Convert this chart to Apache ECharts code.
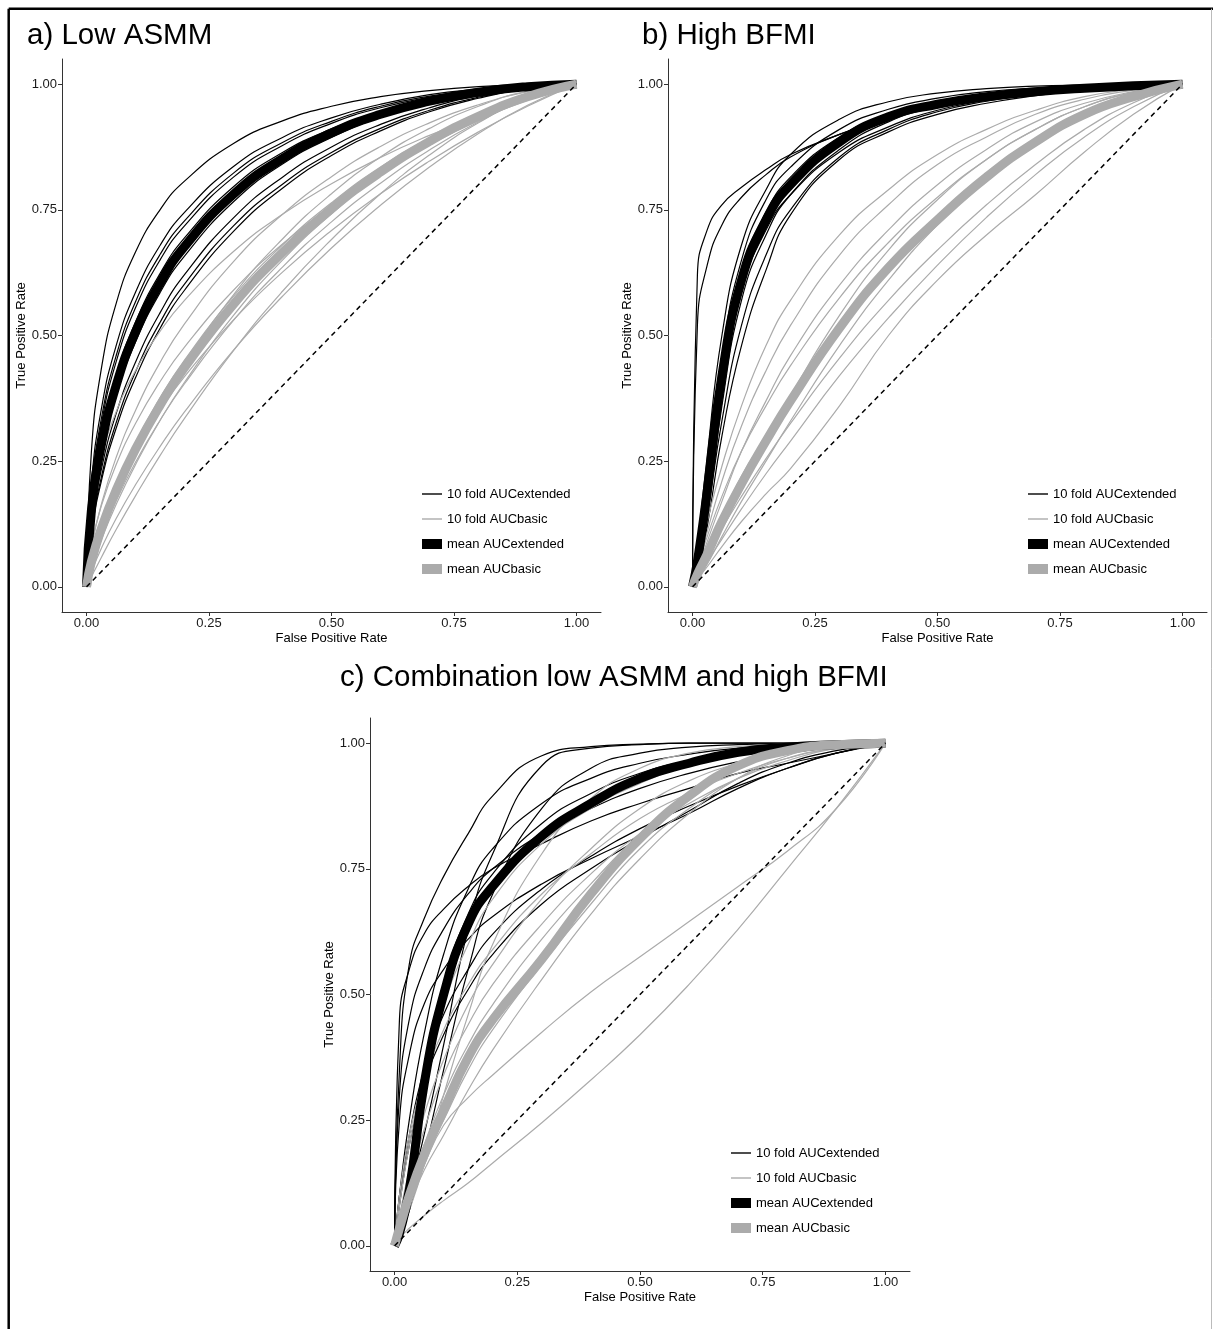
<!DOCTYPE html>
<html>
<head>
<meta charset="utf-8">
<script src="https://cdn.jsdelivr.net/npm/echarts@6/dist/echarts.min.js"></script>
<style>
  html, body { margin: 0; padding: 0; background: #fff; }
  #chart { width: 1213px; height: 1329px; }
</style>
</head>
<body>
<div id="chart"></div>
<script>
// false positive rate grid, every curve below is read at these points
const fprGrid = [0, 0.01, 0.03, 0.06, 0.1, 0.15, 0.2, 0.3, 0.4, 0.5, 0.6, 0.7, 0.8, 0.9, 1];
const tickValues = [0, 0.25, 0.5, 0.75, 1];
const legendNames = ['10 fold AUCextended', '10 fold AUCbasic', 'mean AUCextended', 'mean AUCbasic'];
const panelTitles = ['a) Low ASMM', 'b) High BFMI', 'c) Combination low ASMM and high BFMI'];

// a) Low ASMM
const asmmExtFolds = [
  [0, 0.269, 0.432, 0.562, 0.666, 0.750, 0.807, 0.882, 0.927, 0.956, 0.975, 0.987, 0.995, 0.999, 1],
  [0, 0.204, 0.352, 0.478, 0.586, 0.679, 0.745, 0.836, 0.894, 0.933, 0.960, 0.979, 0.990, 0.997, 1],
  [0, 0.191, 0.333, 0.458, 0.567, 0.661, 0.728, 0.823, 0.884, 0.926, 0.956, 0.976, 0.989, 0.997, 1],
  [0, 0.182, 0.322, 0.446, 0.555, 0.650, 0.718, 0.815, 0.878, 0.922, 0.953, 0.974, 0.988, 0.997, 1],
  [0, 0.165, 0.298, 0.419, 0.527, 0.623, 0.694, 0.796, 0.864, 0.911, 0.946, 0.970, 0.986, 0.996, 1],
  [0, 0.148, 0.274, 0.392, 0.499, 0.596, 0.669, 0.775, 0.848, 0.900, 0.937, 0.964, 0.983, 0.995, 1],
  [0, 0.141, 0.264, 0.380, 0.487, 0.585, 0.658, 0.766, 0.841, 0.894, 0.934, 0.962, 0.982, 0.994, 1],
  [0, 0.120, 0.232, 0.343, 0.447, 0.545, 0.621, 0.734, 0.815, 0.875, 0.920, 0.953, 0.977, 0.992, 1],
  [0, 0.110, 0.217, 0.325, 0.428, 0.526, 0.602, 0.718, 0.801, 0.864, 0.912, 0.948, 0.974, 0.991, 1],
  [0, 0.105, 0.209, 0.314, 0.416, 0.514, 0.590, 0.707, 0.793, 0.858, 0.907, 0.945, 0.972, 0.991, 1]
];
const asmmBasicFolds = [
  [0, 0.077, 0.163, 0.256, 0.351, 0.446, 0.523, 0.647, 0.741, 0.816, 0.876, 0.923, 0.959, 0.985, 1],
  [0, 0.156, 0.256, 0.347, 0.430, 0.508, 0.570, 0.667, 0.741, 0.802, 0.854, 0.898, 0.936, 0.970, 1],
  [0, 0.038, 0.099, 0.176, 0.264, 0.359, 0.442, 0.581, 0.692, 0.782, 0.855, 0.912, 0.956, 0.986, 1],
  [0, 0.054, 0.123, 0.202, 0.287, 0.376, 0.451, 0.578, 0.680, 0.764, 0.835, 0.893, 0.941, 0.977, 1],
  [0, 0.082, 0.160, 0.242, 0.325, 0.408, 0.477, 0.590, 0.682, 0.758, 0.823, 0.879, 0.928, 0.968, 1],
  [0, 0.037, 0.093, 0.163, 0.243, 0.331, 0.407, 0.540, 0.650, 0.742, 0.820, 0.885, 0.937, 0.977, 1],
  [0, 0.042, 0.100, 0.170, 0.248, 0.331, 0.404, 0.530, 0.636, 0.726, 0.803, 0.869, 0.925, 0.970, 1],
  [0, 0.061, 0.127, 0.198, 0.273, 0.351, 0.418, 0.531, 0.626, 0.709, 0.782, 0.847, 0.905, 0.956, 1],
  [0, 0.020, 0.058, 0.113, 0.181, 0.261, 0.335, 0.470, 0.588, 0.691, 0.782, 0.859, 0.923, 0.972, 1],
  [0, 0.030, 0.076, 0.135, 0.203, 0.279, 0.348, 0.471, 0.578, 0.674, 0.759, 0.835, 0.902, 0.958, 1]
];
const asmmExtMean = [0, 0.152, 0.281, 0.399, 0.507, 0.604, 0.677, 0.781, 0.852, 0.903, 0.940, 0.966, 0.984, 0.995, 1];
const asmmBasicMean = [0, 0.050, 0.115, 0.191, 0.274, 0.361, 0.436, 0.562, 0.665, 0.752, 0.825, 0.886, 0.936, 0.975, 1];

// b) High BFMI
const bfmiExtFolds = [
  [0, 0.62, 0.71, 0.76, 0.795, 0.83, 0.86, 0.90, 0.935, 0.958, 0.974, 0.985, 0.993, 0.998, 1],
  [0, 0.52, 0.64, 0.72, 0.775, 0.82, 0.855, 0.90, 0.932, 0.955, 0.97, 0.982, 0.991, 0.997, 1],
  [0, 0.08, 0.26, 0.50, 0.68, 0.79, 0.86, 0.93, 0.965, 0.982, 0.991, 0.996, 0.998, 0.999, 1],
  [0, 0.06, 0.22, 0.46, 0.65, 0.77, 0.835, 0.91, 0.95, 0.972, 0.985, 0.992, 0.996, 0.999, 1],
  [0, 0.04, 0.17, 0.40, 0.60, 0.72, 0.795, 0.88, 0.93, 0.958, 0.975, 0.986, 0.993, 0.998, 1],
  [0, 0.03, 0.14, 0.36, 0.57, 0.70, 0.78, 0.87, 0.925, 0.955, 0.973, 0.985, 0.993, 0.998, 1],
  [0, 0.05, 0.20, 0.41, 0.59, 0.71, 0.78, 0.865, 0.915, 0.948, 0.968, 0.982, 0.991, 0.997, 1],
  [0, 0.035, 0.14, 0.33, 0.52, 0.66, 0.75, 0.855, 0.91, 0.945, 0.966, 0.98, 0.99, 0.997, 1],
  [0, 0.03, 0.12, 0.30, 0.48, 0.63, 0.74, 0.85, 0.905, 0.94, 0.962, 0.977, 0.988, 0.996, 1],
  [0, 0.07, 0.24, 0.45, 0.63, 0.745, 0.815, 0.895, 0.94, 0.965, 0.98, 0.99, 0.995, 0.998, 1]
];
const bfmiBasicFolds = [
  [0, 0.05, 0.13, 0.24, 0.36, 0.48, 0.57, 0.70, 0.79, 0.86, 0.91, 0.948, 0.975, 0.99, 1],
  [0, 0.04, 0.11, 0.21, 0.32, 0.43, 0.52, 0.66, 0.76, 0.84, 0.895, 0.94, 0.97, 0.988, 1],
  [0, 0.035, 0.09, 0.17, 0.27, 0.37, 0.46, 0.60, 0.71, 0.80, 0.87, 0.925, 0.962, 0.985, 1],
  [0, 0.02, 0.06, 0.12, 0.20, 0.29, 0.38, 0.54, 0.67, 0.77, 0.85, 0.91, 0.955, 0.983, 1],
  [0, 0.03, 0.075, 0.14, 0.22, 0.30, 0.38, 0.52, 0.63, 0.725, 0.81, 0.88, 0.935, 0.975, 1],
  [0, 0.015, 0.045, 0.10, 0.17, 0.25, 0.33, 0.48, 0.61, 0.72, 0.81, 0.885, 0.94, 0.978, 1],
  [0, 0.025, 0.06, 0.115, 0.18, 0.255, 0.325, 0.455, 0.57, 0.67, 0.76, 0.84, 0.91, 0.963, 1],
  [0, 0.02, 0.05, 0.095, 0.155, 0.225, 0.29, 0.42, 0.535, 0.64, 0.735, 0.82, 0.895, 0.955, 1],
  [0, 0.015, 0.04, 0.08, 0.13, 0.185, 0.235, 0.36, 0.50, 0.61, 0.70, 0.78, 0.865, 0.94, 1],
  [0, 0.04, 0.10, 0.18, 0.27, 0.36, 0.44, 0.575, 0.685, 0.775, 0.85, 0.91, 0.955, 0.984, 1]
];
const bfmiExtMean = [0, 0.05, 0.19, 0.42, 0.61, 0.73, 0.80, 0.885, 0.935, 0.96, 0.975, 0.985, 0.992, 0.997, 1];
const bfmiBasicMean = [0, 0.025, 0.065, 0.13, 0.205, 0.29, 0.37, 0.515, 0.635, 0.73, 0.815, 0.885, 0.94, 0.975, 1];

// c) Combination low ASMM and high BFMI
const comboExtFolds = [
  [0, 0.45, 0.55, 0.62, 0.67, 0.715, 0.75, 0.80, 0.845, 0.88, 0.91, 0.94, 0.96, 0.98, 1],
  [0, 0.35, 0.56, 0.65, 0.735, 0.82, 0.895, 0.975, 0.993, 0.998, 1, 1, 1, 1, 1],
  [0, 0.03, 0.10, 0.22, 0.40, 0.63, 0.78, 0.955, 0.99, 0.997, 1, 1, 1, 1, 1],
  [0, 0.25, 0.38, 0.48, 0.55, 0.61, 0.655, 0.72, 0.77, 0.815, 0.86, 0.91, 0.95, 0.98, 1],
  [0, 0.08, 0.20, 0.32, 0.42, 0.51, 0.58, 0.68, 0.75, 0.81, 0.865, 0.92, 0.96, 0.985, 1],
  [0, 0.10, 0.22, 0.35, 0.46, 0.55, 0.62, 0.71, 0.775, 0.83, 0.875, 0.915, 0.95, 0.98, 1],
  [0, 0.10, 0.25, 0.42, 0.58, 0.71, 0.79, 0.88, 0.93, 0.96, 0.978, 0.99, 0.995, 0.998, 1],
  [0, 0.05, 0.15, 0.33, 0.52, 0.66, 0.74, 0.84, 0.90, 0.94, 0.965, 0.98, 0.99, 0.997, 1],
  [0, 0.02, 0.07, 0.18, 0.35, 0.55, 0.70, 0.87, 0.95, 0.98, 0.992, 0.997, 0.999, 1, 1],
  [0, 0.30, 0.45, 0.55, 0.63, 0.70, 0.75, 0.82, 0.87, 0.91, 0.94, 0.963, 0.98, 0.992, 1]
];
const comboBasicFolds = [
  [0, 0.015, 0.035, 0.06, 0.09, 0.125, 0.165, 0.245, 0.33, 0.42, 0.52, 0.63, 0.75, 0.87, 1],
  [0, 0.04, 0.09, 0.16, 0.24, 0.295, 0.34, 0.425, 0.505, 0.575, 0.645, 0.715, 0.785, 0.87, 1],
  [0, 0.08, 0.20, 0.34, 0.48, 0.60, 0.69, 0.80, 0.87, 0.92, 0.955, 0.975, 0.99, 0.997, 1],
  [0, 0.02, 0.07, 0.16, 0.30, 0.46, 0.60, 0.78, 0.89, 0.95, 0.98, 0.993, 0.998, 1, 1],
  [0, 0.06, 0.15, 0.26, 0.37, 0.48, 0.56, 0.69, 0.79, 0.87, 0.925, 0.96, 0.985, 0.996, 1],
  [0, 0.04, 0.11, 0.20, 0.30, 0.40, 0.48, 0.61, 0.72, 0.82, 0.90, 0.95, 0.98, 0.995, 1],
  [0, 0.03, 0.09, 0.17, 0.25, 0.35, 0.43, 0.56, 0.68, 0.79, 0.87, 0.93, 0.97, 0.99, 1],
  [0, 0.05, 0.13, 0.23, 0.34, 0.44, 0.52, 0.64, 0.74, 0.82, 0.88, 0.93, 0.965, 0.99, 1],
  [0, 0.03, 0.08, 0.15, 0.22, 0.31, 0.39, 0.53, 0.66, 0.77, 0.86, 0.93, 0.975, 0.995, 1],
  [0, 0.10, 0.22, 0.33, 0.43, 0.52, 0.59, 0.70, 0.78, 0.85, 0.90, 0.94, 0.97, 0.99, 1]
];
const comboExtMean = [0, 0.025, 0.11, 0.32, 0.50, 0.64, 0.715, 0.815, 0.88, 0.93, 0.96, 0.982, 0.992, 0.997, 1];
const comboBasicMean = [0, 0.035, 0.10, 0.18, 0.27, 0.375, 0.45, 0.57, 0.70, 0.81, 0.895, 0.955, 0.985, 0.997, 1];

const panels = [
  { ext: asmmExtFolds, basic: asmmBasicFolds, extMean: asmmExtMean, basicMean: asmmBasicMean },
  { ext: bfmiExtFolds, basic: bfmiBasicFolds, extMean: bfmiExtMean, basicMean: bfmiBasicMean },
  { ext: comboExtFolds, basic: comboBasicFolds, extMean: comboExtMean, basicMean: comboBasicMean }
];

const FONT = 'Liberation Sans, Arial, sans-serif';
const BLACK = '#000000';
const GREY = '#ababab';
const THIN_ICON = 'path://M0,0 L20,0 L20,1.4 L0,1.4 Z';

// plot frames of the three panels
const grids = [
  { left: 62, top: 59, width: 539, height: 553 },
  { left: 668, top: 59, width: 539, height: 553 },
  { left: 370, top: 718, width: 540, height: 553 }
];

function curve(ys, name, color, width, idx) {
  return {
    name: name,
    type: 'line',
    xAxisIndex: idx,
    yAxisIndex: idx,
    data: ys.map((y, i) => [fprGrid[i], y]),
    smooth: 0.5,
    symbol: 'none',
    silent: true,
    lineStyle: { color: color, width: width, cap: 'butt' },
    itemStyle: { color: color }
  };
}

function axis(idx, dim) {
  return {
    type: 'value',
    gridIndex: idx,
    min: -0.05,
    max: 1.05,
    name: dim === 'x' ? 'False Positive Rate' : 'True Positive Rate',
    nameLocation: 'middle',
    nameGap: dim === 'x' ? 20 : 34,
    nameTextStyle: { fontFamily: FONT, fontSize: 13, color: '#000' },
    axisLine: { show: true, onZero: false, lineStyle: { color: '#333', width: 1 } },
    axisTick: { show: true, length: 4, customValues: tickValues, lineStyle: { color: '#333' } },
    axisLabel: {
      margin: 5,
      customValues: tickValues,
      fontFamily: FONT,
      fontSize: 13,
      color: '#1a1a1a',
      formatter: v => v.toFixed(2)
    },
    splitLine: { show: false }
  };
}

let series = [];
panels.forEach((p, idx) => {
  p.ext.forEach(ys => series.push(curve(ys, legendNames[0], BLACK, 1.2, idx)));
  p.basic.forEach(ys => series.push(curve(ys, legendNames[1], GREY, 1.2, idx)));
  series.push(curve(p.extMean, legendNames[2], BLACK, 9, idx));
  series.push(curve(p.basicMean, legendNames[3], GREY, 9, idx));
  // chance line
  series.push({
    type: 'line',
    xAxisIndex: idx,
    yAxisIndex: idx,
    data: [[0, 0], [1, 1]],
    symbol: 'none',
    silent: true,
    lineStyle: { color: BLACK, width: 1.5, type: [5, 4] }
  });
});

const legendPos = [
  { left: 422, top: 487 },
  { left: 1028, top: 487 },
  { left: 731, top: 1146 }
];

const option = {
  animation: false,
  backgroundColor: '#fff',
  title: [
    { text: panelTitles[0], left: 27, top: 21 },
    { text: panelTitles[1], left: 642, top: 21 },
    { text: panelTitles[2], left: 340, top: 663 }
  ].map(t => Object.assign(t, {
    padding: 0,
    textStyle: { fontFamily: FONT, fontSize: 29.5, fontWeight: 'normal', color: '#000' }
  })),
  legend: legendPos.map(pos => ({
    data: [
      { name: legendNames[0], icon: THIN_ICON },
      { name: legendNames[1], icon: THIN_ICON },
      { name: legendNames[2], icon: 'rect' },
      { name: legendNames[3], icon: 'rect' }
    ],
    orient: 'vertical',
    left: pos.left,
    top: pos.top,
    padding: 0,
    itemWidth: 20,
    itemHeight: 10,
    itemGap: 11,
    symbolKeepAspect: true,
    selectedMode: false,
    textStyle: { fontFamily: FONT, fontSize: 13, lineHeight: 14, color: '#000' }
  })),
  grid: grids,
  xAxis: [0, 1, 2].map(i => axis(i, 'x')),
  yAxis: [0, 1, 2].map(i => axis(i, 'y')),
  series: series,
  graphic: [
    { type: 'line', shape: { x1: 8.7, y1: 8.7, x2: 1213, y2: 8.7 }, style: { stroke: '#000', lineWidth: 2.5 } },
    { type: 'line', shape: { x1: 8.7, y1: 8.7, x2: 8.7, y2: 1329 }, style: { stroke: '#000', lineWidth: 2.5 } },
    { type: 'line', shape: { x1: 1211.5, y1: 8.7, x2: 1211.5, y2: 1329 }, style: { stroke: '#bbb', lineWidth: 1 } }
  ]
};

const myChart = echarts.init(document.getElementById('chart'), null, { renderer: 'canvas' });
myChart.setOption(option);
</script>
</body>
</html>
